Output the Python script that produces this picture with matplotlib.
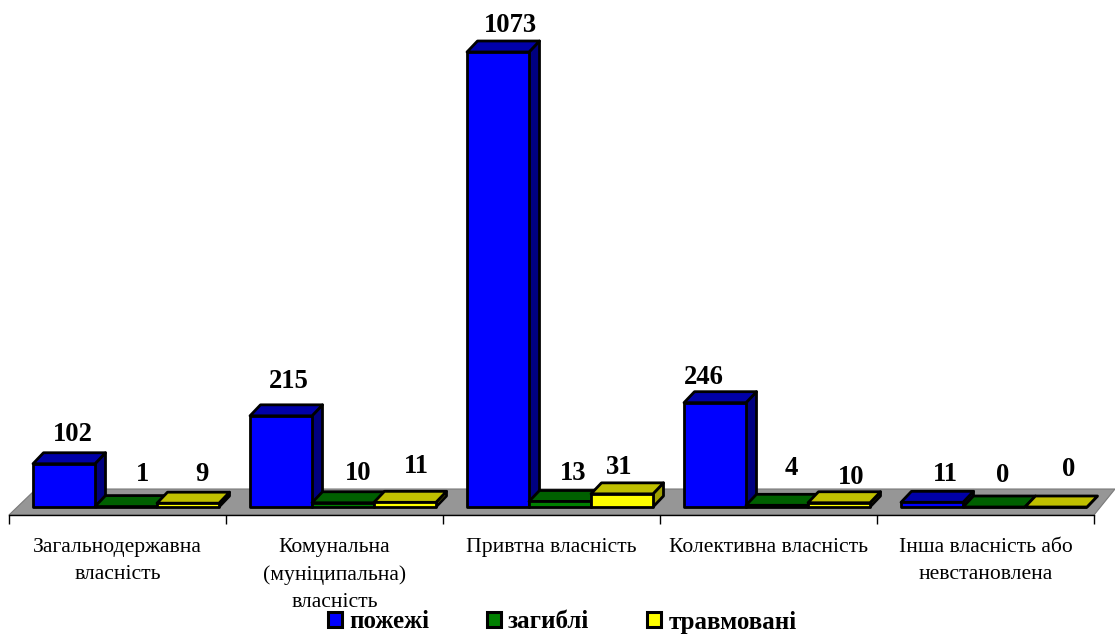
# -*- coding: utf-8 -*-
import numpy as np
import matplotlib
matplotlib.use('Agg')
import matplotlib.pyplot as plt
from matplotlib.patches import Polygon, Patch

plt.rcParams['font.family'] = ['Liberation Serif', 'DejaVu Serif']

# data
categories = ['Загальнодержавна\nвласність', 'Комунальна\n(муніципальна)\nвласність',
              'Привтна власність', 'Колективна власність', 'Інша власність або\nневстановлена']
series_names = ['пожежі', 'загиблі', 'травмовані']
fires = [102, 215, 1073, 246, 11]
dead = [1, 10, 13, 4, 0]
injured = [9, 11, 31, 10, 0]

# front, top, side
pal = [('#0000ff', '#0000a8', '#000080'),
       ('#008000', '#006000', '#004000'),
       ('#ffff00', '#c0c000', '#a0a000')]

# label shift from the bar top, pixels (hand placed in the original)
label_dx = [[9, 16, 14], [8, 15, 11], [12, 13, -3], [-11, 14, 12], [13, 9, 13]]
label_dy = [[29, 32, 29], [34, 29, 36], [26, 28, 26], [25, 37, 25], [28, 31, 37]]

W, H = 1115, 634
fig = plt.figure(figsize=(W / 100, H / 100), dpi=100)
ax = fig.add_axes([9 / W, (H - 515) / H, 1085 / W, 515 / H])

px_x = 5 / 1085          # one pixel in x units
px_y = 1073 / 455        # one pixel in y units
ax.set_xlim(0, 5)
ax.set_ylim(-8 * px_y, 507 * px_y)

# bars sit on this depth
bar_w = 62 * px_x
gap = 24 * px_x
dx = 10.5 * px_x
dy = 11 * px_y


def bar3d(x, v, cols):
    front = [(x, 0), (x + bar_w, 0), (x + bar_w, v), (x, v)]
    top = [(x, v), (x + bar_w, v), (x + bar_w + dx, v + dy), (x + dx, v + dy)]
    side = [(x + bar_w, 0), (x + bar_w + dx, dy), (x + bar_w + dx, v + dy), (x + bar_w, v)]
    for pts, c in zip((side, top, front), (cols[2], cols[1], cols[0])):
        ax.add_patch(Polygon(pts, closed=True, facecolor=c, edgecolor='black',
                             linewidth=2.0, joinstyle='round', clip_on=False))


# floor
floor = [(0, -8 * px_y), (5, -8 * px_y), (5 + 21 * px_x, 18 * px_y), (27 * px_x, 18 * px_y)]
ax.add_patch(Polygon(floor, closed=True, facecolor='#969696', edgecolor='#7a7a7a',
                     linewidth=0.8, clip_on=False))

values = [fires, dead, injured]
for g in range(len(categories)):
    for s in range(3):
        v = values[s][g]
        x = g + gap + s * bar_w
        bar3d(x, v, pal[s])
        ax.annotate(str(v), xy=(x + bar_w / 2, v),
                    xytext=(label_dx[g][s], label_dy[g][s]), textcoords='offset pixels',
                    ha='center', va='center', fontsize=19.2, fontweight='bold',
                    annotation_clip=False)

# axis
for sp in ['top', 'left', 'right']:
    ax.spines[sp].set_visible(False)
ax.spines['bottom'].set_linewidth(1.0)
ax.spines['bottom'].set_zorder(5)
ax.yaxis.set_visible(False)
ax.patch.set_alpha(0)
ax.set_xticks(np.arange(len(categories)) + 0.5)
ax.set_xticklabels(categories, fontsize=15.6, linespacing=1.57)
ax.set_xticks(np.arange(len(categories) + 1), minor=True)
ax.tick_params(axis='x', which='major', length=0, pad=16.5)
ax.tick_params(axis='x', which='minor', length=6.5, width=1.0)

# legend
handles = [Patch(facecolor=pal[i][0], edgecolor='black', linewidth=2.2) for i in range(3)]
fig.legend(handles, series_names, ncols=3, loc='center', bbox_to_anchor=(562 / W, 1 - 622 / H),
           frameon=False, prop={'size': 18, 'weight': 'bold'},
           handlelength=0.56, handleheight=0.56, handletextpad=0.3, columnspacing=2.3,
           borderpad=0, borderaxespad=0)

fig.savefig('out.png', dpi=100)
